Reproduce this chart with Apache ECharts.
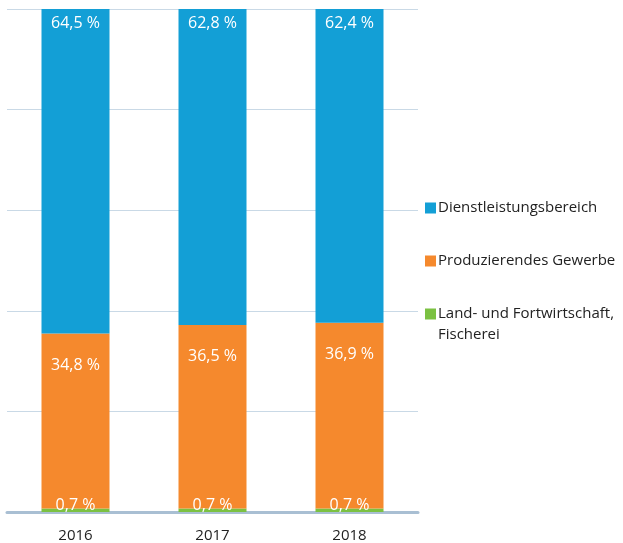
<!DOCTYPE html>
<html><head><meta charset="utf-8">
<script src="https://cdn.jsdelivr.net/npm/echarts@6/dist/echarts.min.js"></script>
<style>html,body{margin:0;padding:0;background:#fff}#c{width:623px;height:543px}</style>
</head><body><div id="c"></div>
<script>
var categories = ['2016', '2017', '2018'];
var land = [0.7, 0.7, 0.7];
var produzierend = [34.8, 36.5, 36.9];
var dienst = [64.5, 62.8, 62.4];
var seriesNames = ['Land- und Fortwirtschaft, Fischerei', 'Produzierendes Gewerbe', 'Dienstleistungsbereich'];
var legendLines = {'Land- und Fortwirtschaft, Fischerei': ['Land- und Fortwirtschaft,', 'Fischerei']};
var yTicks = [0, 20, 40, 60, 80, 100];

function fmt(p){ return p.value.toFixed(1).replace('.', ',') + ' %'; }
var font = 'Open Sans';
var chart = echarts.init(document.getElementById('c'));
chart.setOption({
  animation: false,
  textStyle: {fontFamily: font},
  grid: {left: 7, right: 205, top: 9, bottom: 31, containLabel: false},
  legend: {
    orient: 'vertical', left: 420, top: 192, itemWidth: 11, itemHeight: 11, itemGap: 31,
    icon: 'rect',
    data: [seriesNames[2], seriesNames[1], seriesNames[0]],
    formatter: function (n) { return legendLines[n] ? legendLines[n][0] : n; },
    textStyle: {fontSize: 15, color: '#222', fontFamily: font, lineHeight: 22, padding: [0, 0, 0, -3]}
  },
  graphic: [{
    type: 'text', left: 438, top: 327,
    style: {text: legendLines[seriesNames[0]][1], fontSize: 15, fill: '#222', fontFamily: font}
  }],
  xAxis: {
    type: 'category', data: categories,
    axisLine: {lineStyle: {color: '#a9bfd3', width: 3}},
    axisTick: {show: false},
    axisLabel: {fontSize: 15, color: '#222', margin: 16, fontFamily: font}
  },
  yAxis: {
    type: 'value', min: yTicks[0], max: yTicks[yTicks.length - 1], interval: 20,
    axisLabel: {show: false}, axisLine: {show: false}, axisTick: {show: false},
    splitLine: {lineStyle: {color: '#c9d9e6', width: 1}}
  },
  series: [
    {name: seriesNames[0], type: 'bar', stack: 's', data: land, barWidth: 68,
     itemStyle: {color: '#7bc142'},
     label: {show: true, position: 'insideBottom', distance: -1, formatter: fmt, color: '#fff', fontSize: 16, fontFamily: font}},
    {name: seriesNames[1], type: 'bar', stack: 's', data: produzierend,
     itemStyle: {color: '#f5892d'},
     label: {show: true, position: 'insideTop', distance: 24, formatter: fmt, color: '#fff', fontSize: 16, fontFamily: font}},
    {name: seriesNames[2], type: 'bar', stack: 's', data: dienst,
     itemStyle: {color: '#139fd6'},
     label: {show: true, position: 'insideTop', distance: 6, formatter: fmt, color: '#fff', fontSize: 16, fontFamily: font}}
  ]
});
</script></body></html>
